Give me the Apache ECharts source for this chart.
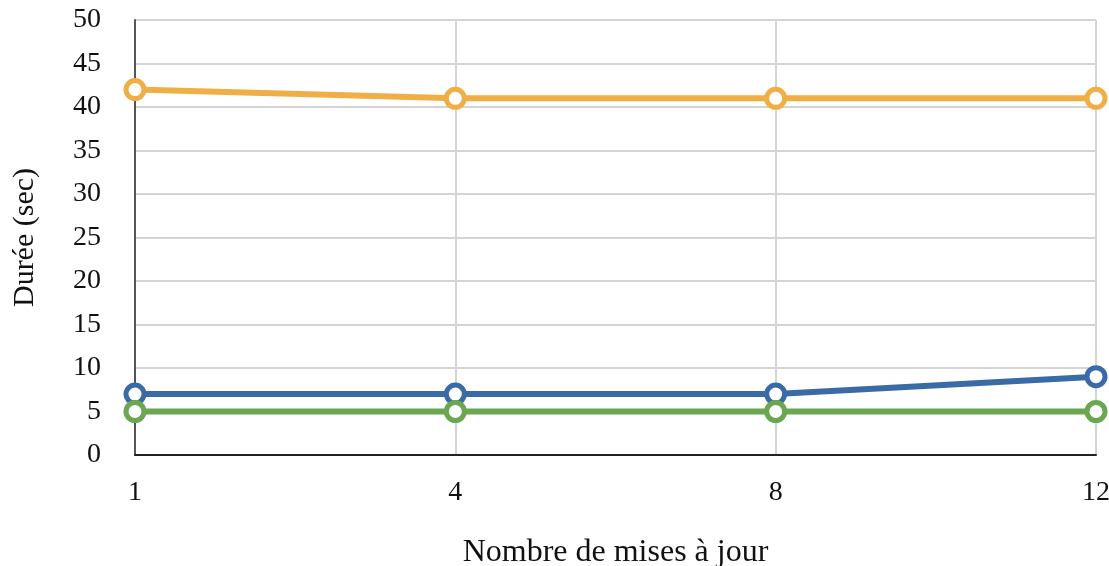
<!DOCTYPE html>
<html>
<head>
<meta charset="utf-8">
<script src="https://cdn.jsdelivr.net/npm/echarts@6/dist/echarts.min.js"></script>
<style>
  html, body { margin: 0; padding: 0; background: #fff; }
  #chart { width: 1109px; height: 566px; }
</style>
</head>
<body>
<div id="chart"></div>
<script>
// Number of updates on the x axis
const categories = ['1', '4', '8', '12'];

// Duration in seconds for each series
const seriesOrange = [42, 41, 41, 41];
const seriesBlue = [7, 7, 7, 9];
const seriesGreen = [5, 5, 5, 5];

const xAxisName = 'Nombre de mises à jour';
const yAxisName = 'Durée (sec)';

const serif = '"Liberation Serif", "DejaVu Serif", serif';

function lineSeries(data, color) {
  return {
    type: 'line',
    data: data,
    symbol: 'circle',
    symbolSize: 18,
    showSymbol: true,
    lineStyle: { color: color, width: 6 },
    itemStyle: { color: '#ffffff', borderColor: color, borderWidth: 5 },
    emphasis: { disabled: true },
    z: 3
  };
}

const chart = echarts.init(document.getElementById('chart'), null, { renderer: 'canvas' });
chart.setOption({
  animation: false,
  backgroundColor: '#ffffff',
  grid: {
    left: 135, right: 13, top: 20, bottom: 111,
    containLabel: false,
    outerBoundsMode: 'none'
  },
  xAxis: {
    type: 'category',
    data: categories,
    boundaryGap: false,
    name: xAxisName,
    nameLocation: 'middle',
    nameGap: 82,
    nameTextStyle: { fontFamily: serif, fontSize: 32, color: '#111' },
    axisLine: { show: true, lineStyle: { color: '#222', width: 2 } },
    axisTick: { show: false },
    axisLabel: { fontFamily: serif, fontSize: 28, color: '#111', margin: 24 },
    splitLine: { show: true, lineStyle: { color: '#d4d4d4', width: 2 } }
  },
  yAxis: {
    type: 'value',
    min: 0,
    max: 50,
    interval: 5,
    name: yAxisName,
    nameLocation: 'middle',
    nameGap: 95,
    nameTextStyle: { fontFamily: serif, fontSize: 30, color: '#111' },
    axisLine: { show: true, lineStyle: { color: '#555', width: 2 } },
    axisTick: { show: false },
    axisLabel: { fontFamily: serif, fontSize: 28, color: '#111', margin: 34 },
    splitLine: { show: true, lineStyle: { color: '#d4d4d4', width: 2 } }
  },
  series: [
    lineSeries(seriesOrange, '#F0AE46'),
    lineSeries(seriesBlue, '#3B6BA6'),
    lineSeries(seriesGreen, '#6BA650')
  ]
});
</script>
</body>
</html>
